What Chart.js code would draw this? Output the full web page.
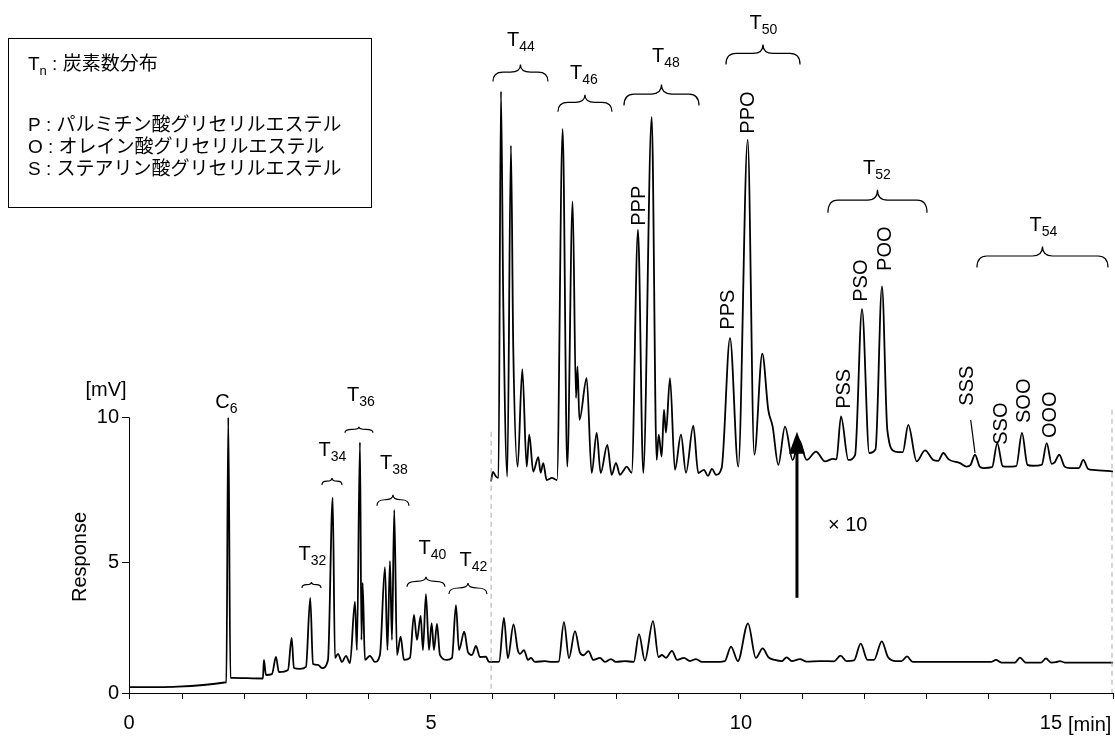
<!DOCTYPE html>
<html lang="ja">
<head>
    <meta charset="UTF-8">
    <title>Chromatogram</title>
    <style>
        body {
            margin: 0;
            padding: 0;
            background-color: #fff;
        }

        .chart-container {
            width: 1115px;
            height: 736px;
            position: relative;
        }
    </style>
    <script src="https://cdn.jsdelivr.net/npm/chart.js"></script>
</head>
<body>

<div class="chart-container">
    <canvas id="chromChart"></canvas>
</div>

<script>
    // Lower trace (x1), retention time [min] and response [mV]
    const lowerMin = [0.13, 1.70, 1.731, 1.766, 1.79, 2.29, 2.306, 2.339, 2.435, 2.50, 2.548, 2.694, 2.753, 2.790, 2.887, 2.984,
        3.053, 3.097, 3.177, 3.242, 3.339, 3.415, 3.452, 3.50, 3.565, 3.629, 3.694, 3.774, 3.806, 3.855, 3.879, 3.898,
        3.935, 4.016, 4.097, 4.177, 4.258, 4.298, 4.339, 4.371, 4.408, 4.452, 4.511, 4.565, 4.661, 4.726, 4.774, 4.834,
        4.871, 4.919, 4.968, 5.011, 5.048, 5.097, 5.145, 5.258, 5.339, 5.403, 5.452, 5.537, 5.597, 5.661, 5.726, 5.790,
        5.887, 5.935, 6.032, 6.10, 6.177, 6.24, 6.332, 6.40, 6.435, 6.50, 6.565, 6.613, 6.677, 6.839, 6.952, 7.06,
        7.145, 7.226, 7.323, 7.40, 7.46, 7.540, 7.62, 7.726, 7.806, 7.903, 7.984, 8.129, 8.27, 8.355, 8.45, 8.581,
        8.67, 8.726, 8.790, 8.887, 8.97, 9.081, 9.177, 9.274, 9.371, 9.581, 9.74, 9.839, 9.95, 10.113, 10.24, 10.350,
        10.44, 10.548, 10.66, 10.735, 10.82, 10.952, 11.05, 11.274, 11.50, 11.605, 11.70, 11.823, 11.931, 12.04,
        12.145, 12.271, 12.37, 12.50, 12.59, 12.677, 12.77, 13.532, 14.03, 14.113, 14.20, 14.42, 14.50, 14.59,
        14.84, 14.919, 15.0, 15.08, 15.145, 15.22, 16.0];
    const lowerMv = [0.70, 0.87, 10.0, 1.02, 1.02, 1.00, 1.64, 1.12, 1.15, 1.74, 1.22, 1.29, 2.40, 1.36, 1.33, 1.40,
        3.78, 1.50, 1.47, 1.36, 1.64, 7.23, 1.71, 1.85, 1.57, 1.78, 1.53, 3.65, 1.98, 9.14, 2.33, 4.29,
        1.64, 1.78, 1.57, 1.81, 4.84, 1.98, 5.05, 2.33, 6.81, 1.81, 2.44, 1.64, 1.71, 3.19, 2.33, 3.16,
        1.98, 3.91, 1.98, 2.91, 1.98, 2.88, 1.81, 1.64, 1.71, 3.53, 1.98, 2.61, 1.91, 1.81, 2.12, 1.74,
        1.75, 1.57, 1.57, 1.58, 3.09, 1.70, 2.86, 1.98, 1.85, 1.98, 1.64, 1.71, 1.57, 1.60, 1.57, 1.58,
        2.94, 1.70, 2.63, 1.91, 1.80, 1.94, 1.64, 1.71, 1.57, 1.67, 1.57, 1.60, 1.57, 2.53, 1.62, 2.98,
        1.74, 1.81, 1.71, 1.95, 1.64, 1.71, 1.60, 1.67, 1.57, 1.57, 1.60, 2.10, 1.60, 2.90, 1.71, 2.04,
        1.74, 1.64, 1.60, 1.73, 1.60, 1.67, 1.58, 1.60, 1.59, 1.79, 1.60, 1.62, 2.20, 1.64,
        1.64, 2.28, 1.74, 1.60, 1.60, 1.76, 1.57, 1.57, 1.57, 1.64, 1.55, 1.55, 1.72, 1.55,
        1.55, 1.69, 1.55, 1.56, 1.60, 1.55, 1.55];

    // Upper trace (x10, shifted up)
    const upperMin = [5.968, 6.0, 6.048, 6.089, 6.129, 6.166, 6.231, 6.290, 6.327, 6.398, 6.473, 6.544, 6.585, 6.650, 6.731,
        6.769, 6.811, 6.866, 6.952, 7.032, 7.124, 7.198, 7.285, 7.339, 7.363, 7.395, 7.511, 7.592, 7.673, 7.737, 7.844,
        7.915, 7.984, 8.048, 8.113, 8.156, 8.237, 8.339, 8.424, 8.560, 8.640, 8.673, 8.721, 8.758, 8.790, 8.855, 8.935,
        9.032, 9.113, 9.231, 9.311, 9.403, 9.468, 9.532, 9.597, 9.689, 9.823, 9.956, 10.108, 10.215, 10.344, 10.440,
        10.511, 10.602, 10.710, 10.834, 10.935, 11.060, 11.210, 11.355, 11.484, 11.54, 11.613, 11.731, 11.84, 11.952,
        12.069, 12.17, 12.274, 12.360, 12.484, 12.61, 12.698, 12.834, 12.968, 13.102, 13.18, 13.263, 13.35, 13.532,
        13.640, 13.70, 13.774, 13.85, 13.908, 14.05, 14.134, 14.22, 14.285, 14.44, 14.532, 14.62, 14.70, 14.85, 14.931,
        15.01, 15.06, 15.134, 15.22, 15.306, 15.45, 15.521, 15.60, 15.682, 16.0];
    const upperMv = [7.79, 8.12, 7.96, 7.91, 21.23, 13.99, 7.96, 19.37, 12.44, 8.30, 11.66, 8.30, 9.40, 8.13, 8.63,
        8.09, 8.42, 7.84, 7.91, 7.84, 19.94, 8.30, 17.44, 10.67, 11.75, 9.91, 11.35, 8.08, 9.46, 8.08, 9.05,
        8.02, 8.43, 8.02, 8.19, 8.30, 8.09, 16.47, 8.08, 20.35, 8.53, 9.40, 8.65, 10.26, 9.47, 11.35, 8.19,
        9.40, 8.09, 9.71, 8.08, 8.19, 7.98, 8.22, 8.02, 8.26, 12.73, 8.30, 19.57, 8.71, 12.19, 10.26,
        9.68, 8.36, 9.68, 8.53, 9.22, 8.53, 8.82, 8.48, 8.57, 8.55, 10.03, 8.53, 8.70, 13.73,
        8.77, 8.90, 14.51, 9.57, 8.82, 8.80, 9.74, 8.48, 8.86, 8.53, 8.50, 8.77, 8.55, 8.42,
        8.30, 8.35, 8.71, 8.30, 8.25, 8.28, 9.11, 8.32, 8.30, 8.32, 9.46, 8.36, 8.33, 8.36, 9.11,
        8.40, 8.45, 8.71, 8.30, 8.25, 8.25, 8.53, 8.22, 8.19, 8.13];

    // Axis ticks
    const xTickValues = [0.13, 1, 2, 3, 4, 5, 6, 7, 8, 9, 10, 11, 12, 13, 14, 15, 16];
    const xTickLabels = {0.13: '0', 5: '5', 10: '10', 15: '15'};
    const yTickValues = [0.5, 5, 10];
    const yTickLabels = {0.5: '0', 5: '5', 10: '10'};

    // Carbon number groups: label, text position, brace ends [min], brace foot [mV], brace height [px]
    const groupNames = ['32', '34', '36', '38', '40', '42', '44', '46', '48', '50', '52', '54'];
    const groupTextX = [3.089, 3.411, 3.871, 4.403, 5.024, 5.685, 6.452, 7.468, 8.790, 10.363, 12.194, 14.879];
    const groupTextY = [5.10, 8.66, 10.55, 8.21, 5.28, 4.88, 22.79, 21.66, 22.24, 23.38, 18.38, 16.41];
    const braceStart = [2.919, 3.242, 3.613, 4.129, 4.613, 5.290, 6.0, 7.048, 8.113, 9.758, 11.403, 13.806];
    const braceEnd = [3.226, 3.565, 4.065, 4.645, 5.226, 5.903, 6.887, 7.919, 9.323, 10.952, 13.0, 15.919];
    const braceFoot = [4.12, 7.67, 9.47, 6.95, 4.16, 3.91, 21.57, 20.53, 20.74, 22.16, 17.05, 15.16];
    const braceHeight = [6, 7, 6, 11, 10, 11, 17, 17, 21, 20, 23, 21];

    // Peak assignments (rotated labels)
    const peakNames = ['PPP', 'PPS', 'PPO', 'PSS', 'PSO', 'POO', 'SSS', 'SSO', 'SOO', 'OOO'];
    const peakLabelX = [8.363, 9.806, 10.129, 11.677, 11.944, 12.323, 13.661, 14.194, 14.565, 14.984];
    const peakLabelY = [17.29, 13.71, 20.5, 10.98, 14.71, 15.81, 11.09, 9.78, 10.57, 10.09];

    const legendLines = [
        ['P', 'パルミチン酸グリセリルエステル'],
        ['O', 'オレイン酸グリセリルエステル'],
        ['S', 'ステアリン酸グリセリルエステル']
    ];

    const LATIN = '"Liberation Sans", Arial, sans-serif';
    const MIXED = '"Liberation Sans", "Noto Sans CJK JP", sans-serif';

    function toPoints(xs, ys) {
        return xs.map((x, i) => ({x: x, y: ys[i]}));
    }

    function drawSub(ctx, main, sub, cx, baseline) {
        ctx.font = '20px ' + LATIN;
        const w1 = ctx.measureText(main).width;
        ctx.font = '14px ' + LATIN;
        const w2 = ctx.measureText(sub).width;
        const x0 = cx - (w1 + w2) / 2;
        ctx.textAlign = 'left';
        ctx.textBaseline = 'alphabetic';
        ctx.font = '20px ' + LATIN;
        ctx.fillText(main, x0, baseline);
        ctx.font = '14px ' + LATIN;
        ctx.fillText(sub, x0 + w1, baseline + 5);
    }

    function drawBrace(ctx, x0, x1, yb, h) {
        const xc = (x0 + x1) / 2;
        const lower = h * 0.55;
        const upper = h - lower;
        const yMid = yb - lower;
        const r = Math.min(10, (x1 - x0) / 4);
        ctx.beginPath();
        ctx.moveTo(x0, yb);
        ctx.quadraticCurveTo(x0, yMid, x0 + r, yMid);
        ctx.lineTo(xc - r, yMid);
        ctx.quadraticCurveTo(xc, yMid, xc, yMid - upper);
        ctx.quadraticCurveTo(xc, yMid, xc + r, yMid);
        ctx.lineTo(x1 - r, yMid);
        ctx.quadraticCurveTo(x1, yMid, x1, yb);
        ctx.stroke();
    }

    // Everything that is not a trace: annotations, legend box, axis line, arrow
    const annotations = {
        id: 'annotations',
        afterDraw(chart) {
            const ctx = chart.ctx;
            const xs = chart.scales.x;
            const ys = chart.scales.y;
            const X = v => xs.getPixelForValue(v);
            const Y = v => ys.getPixelForValue(v);
            ctx.save();
            ctx.fillStyle = '#000';
            ctx.strokeStyle = '#000';

            // y axis line only from 0 to 10
            ctx.lineWidth = 1;
            ctx.beginPath();
            ctx.moveTo(X(0.13) + 0.5, Y(10));
            ctx.lineTo(X(0.13) + 0.5, Y(0.5));
            ctx.stroke();

            // dashed guides for the x10 section
            ctx.strokeStyle = '#aaa';
            ctx.setLineDash([5, 4]);
            ctx.beginPath();
            ctx.moveTo(X(5.97), Y(9.5));
            ctx.lineTo(X(5.97), Y(0.5));
            ctx.moveTo(X(16) - 1, Y(10.26));
            ctx.lineTo(X(16) - 1, Y(0.5));
            ctx.stroke();
            ctx.setLineDash([]);
            ctx.strokeStyle = '#000';

            // axis texts
            ctx.font = '20px ' + LATIN;
            ctx.textAlign = 'center';
            ctx.textBaseline = 'alphabetic';
            ctx.fillText('[mV]', 106, 396);
            ctx.textAlign = 'left';
            ctx.textBaseline = 'top';
            ctx.fillText('[min]', X(15) + 17, 715);
            ctx.save();
            ctx.translate(80, 557);
            ctx.rotate(-Math.PI / 2);
            ctx.textAlign = 'center';
            ctx.textBaseline = 'middle';
            ctx.fillText('Response', 0, 0);
            ctx.restore();

            // internal standard
            drawSub(ctx, 'C', '6', X(1.702), Y(10.33));

            // carbon number groups
            ctx.lineWidth = 1.2;
            groupNames.forEach((n, i) => {
                drawSub(ctx, 'T', n, X(groupTextX[i]), Y(groupTextY[i]));
                drawBrace(ctx, X(braceStart[i]), X(braceEnd[i]), Y(braceFoot[i]), braceHeight[i]);
            });

            // peak labels
            ctx.font = '20px ' + LATIN;
            peakNames.forEach((n, i) => {
                ctx.save();
                ctx.translate(X(peakLabelX[i]), Y(peakLabelY[i]));
                ctx.rotate(-Math.PI / 2);
                ctx.textAlign = 'center';
                ctx.textBaseline = 'middle';
                ctx.fillText(n, 0, 0);
                ctx.restore();
            });
            ctx.lineWidth = 1.2;
            ctx.beginPath();
            ctx.moveTo(X(13.705), Y(9.91));
            ctx.lineTo(X(13.774), Y(8.77));
            ctx.stroke();

            // x10 arrow
            const ax = X(10.903);
            const tip = Y(9.5);
            ctx.lineWidth = 3;
            ctx.beginPath();
            ctx.moveTo(ax, Y(3.78));
            ctx.lineTo(ax, tip + 15);
            ctx.stroke();
            ctx.beginPath();
            ctx.moveTo(ax, tip);
            ctx.lineTo(ax - 8, tip + 22);
            ctx.lineTo(ax + 8, tip + 22);
            ctx.closePath();
            ctx.fill();
            ctx.font = '20px ' + LATIN;
            ctx.textAlign = 'left';
            ctx.textBaseline = 'alphabetic';
            ctx.fillText('× 10', X(11.403), Y(6.09));

            // legend box
            ctx.lineWidth = 1;
            ctx.strokeRect(8.5, 38.5, 363, 169);
            ctx.font = '19px ' + LATIN;
            const tw = ctx.measureText('T').width;
            ctx.fillText('T', 28, 70);
            ctx.font = '13px ' + LATIN;
            ctx.fillText('n', 28 + tw, 75);
            const nw = ctx.measureText('n').width;
            ctx.font = '19px ' + MIXED;
            ctx.fillText(' : 炭素数分布', 28 + tw + nw, 70);
            legendLines.forEach((l, i) => {
                ctx.fillText(l[0] + ' : ' + l[1], 28, 131 + i * 22);
            });
            ctx.restore();
        }
    };

    const ctx = document.getElementById('chromChart').getContext('2d');
    const chromChart = new Chart(ctx, {
        type: 'line',
        data: {
            datasets: [
                {
                    label: 'x1',
                    data: toPoints(lowerMin, lowerMv),
                    borderColor: '#000',
                    borderWidth: 1.8,
                    pointRadius: 0,
                    cubicInterpolationMode: 'monotone',
                    fill: false
                },
                {
                    label: 'x10',
                    data: toPoints(upperMin, upperMv),
                    borderColor: '#000',
                    borderWidth: 1.8,
                    pointRadius: 0,
                    cubicInterpolationMode: 'monotone',
                    fill: false
                }
            ]
        },
        options: {
            responsive: true,
            maintainAspectRatio: false,
            animation: false,
            layout: {
                padding: {top: 11, right: 2, left: 0, bottom: 0}
            },
            plugins: {
                legend: {display: false},
                tooltip: {enabled: false}
            },
            scales: {
                x: {
                    type: 'linear',
                    min: 0.13,
                    max: 16,
                    afterBuildTicks: scale => {
                        scale.ticks = xTickValues.map(v => ({value: v}));
                    },
                    afterFit: scale => {
                        scale.height = 43;
                        scale.paddingLeft = 0;
                        scale.paddingRight = 0;
                    },
                    ticks: {
                        autoSkip: false,
                        maxRotation: 0,
                        padding: 12,
                        color: '#000',
                        font: {family: LATIN, size: 20},
                        callback: value => xTickLabels[value] || ''
                    },
                    grid: {
                        drawOnChartArea: false,
                        tickLength: 6,
                        color: '#000'
                    },
                    border: {display: true, color: '#000', width: 1}
                },
                y: {
                    type: 'linear',
                    min: 0.5,
                    max: 24,
                    afterBuildTicks: scale => {
                        scale.ticks = yTickValues.map(v => ({value: v}));
                    },
                    afterFit: scale => {
                        scale.width = 129;
                        scale.paddingTop = 0;
                        scale.paddingBottom = 0;
                    },
                    ticks: {
                        padding: 3,
                        color: '#000',
                        font: {family: LATIN, size: 20},
                        callback: value => yTickLabels[value] || ''
                    },
                    grid: {
                        drawOnChartArea: false,
                        tickLength: 7,
                        color: '#000'
                    },
                    border: {display: false}
                }
            }
        },
        plugins: [annotations]
    });
</script>

</body>
</html>
